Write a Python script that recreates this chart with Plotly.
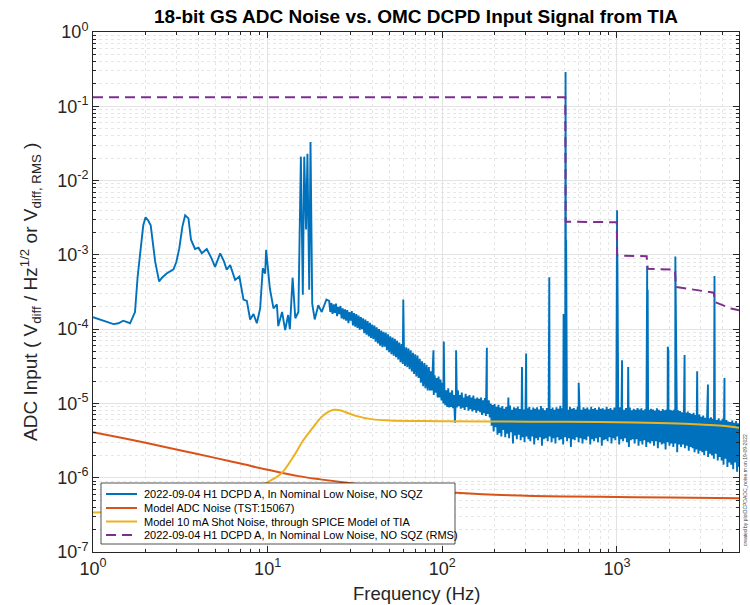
import numpy as np
import plotly.graph_objects as go

# ---------------- data ----------------
# Measured ASD, low-frequency part (Hz, V/rtHz*1e6)
low_f = [1.0, 1.1, 1.2, 1.31, 1.4, 1.49, 1.63, 1.74, 1.8, 1.88, 1.94, 2.0, 2.07, 2.14, 2.27, 2.39,
         2.5, 2.64, 2.89, 3.0, 3.12, 3.25, 3.37, 3.52, 3.64, 3.84, 4.02, 4.2, 4.48, 4.78, 5.0, 5.35,
         5.63, 5.83, 6.1, 6.51, 6.89, 7.27, 7.6, 7.94, 8.3, 8.67, 9.06, 9.38, 9.68, 9.8, 10.1, 10.3,
         10.8, 11.3, 11.5, 12.1, 12.6, 13.1, 13.4, 13.9, 14.4, 15.0, 15.5, 15.9, 16.2, 16.6, 16.9,
         17.3, 17.6, 18.0, 18.6, 19.5, 20.4, 21.7]
low_uv = [145, 135, 125, 117, 120, 130, 120, 170, 500, 1230, 2500, 3200, 2900, 2500, 810, 440,
          500, 560, 640, 800, 1230, 2400, 3400, 3100, 1600, 1200, 1250, 1050, 1200, 890, 690, 1050,
          810, 630, 730, 460, 510, 250, 240, 135, 160, 120, 190, 660, 560, 1170, 630, 350,
          190, 215, 110, 170, 97, 155, 100, 490, 140, 170, 21000, 290, 21000, 2200, 23000,
          340, 33000, 220, 135, 210, 170, 250]

# Measured ASD, 22-85 Hz (uV/rtHz), on the FFT frequency grid
seg1_range = (22.5, 85.0)
seg1_uv = [240, 170, 225, 160, 215, 165, 220, 150, 200, 160,
           205, 140, 190, 135, 185, 130, 180, 120, 170, 130,
           175, 112, 165, 108, 160, 104, 152, 98, 145, 100,
           140, 88, 135, 84, 128, 80, 122, 76, 115, 74,
           112, 68, 106, 64, 100, 60, 96, 57, 92, 58,
           90, 52, 85, 49, 80, 46, 77, 44, 74, 42,
           70, 39, 66, 36, 63, 34, 60, 32, 57, 31,
           55, 29, 52, 27, 48, 25, 46, 23, 44, 22,
           40, 19, 37, 17, 35, 16, 33, 15, 31, 15]

# Measured ASD, 85-5000 Hz (uV/rtHz)
seg2_range = (86.0, 5000.0)
seg2_uv = [27, 15, 25, 13, 24, 14, 22, 12, 23, 12,
           21, 11, 19, 10, 16, 9.5, 15, 9, 16, 8.8,
           14, 9, 15, 8.6, 13, 5.5, 14, 8.8, 15, 9.2,
           13, 8.5, 14, 8.8, 12, 8.2, 13.5, 9, 12.5, 8,
           13, 8.4, 12, 7.8, 12.8, 8.2, 11.5, 7.5, 12, 8,
           11.5, 7.6, 12, 7, 11, 7.4, 11.8, 6.8, 10.5, 7.2,
           11, 6.5, 10, 5, 9.5, 4.2, 9.8, 4.8, 9, 3.8,
           9.6, 4, 8.8, 3.6, 9.2, 4.4, 8.5, 3.5, 9, 3.9,
           8.8, 3.4, 9.4, 4.1, 8.2, 2.9, 8.9, 3.7, 8.6, 3.3,
           9.1, 3.8, 8.4, 3.2, 8.8, 3.5, 8.3, 3, 8.7, 3.6,
           8.6, 3.3, 9, 3.1, 8.2, 3.6, 8.8, 2.8, 8.5, 3.4,
           8.9, 3.2, 8.3, 3.5, 9.2, 2.7, 8.6, 3.3, 8.1, 3.4,
           8.7, 3.1, 9, 3.6, 8.4, 3, 8.8, 3.4, 8.2, 2.9,
           8.9, 3.5, 8.5, 3.2, 9.3, 3.3, 8.6, 2.8, 8.4, 3.5,
           8.8, 3.1, 8.2, 3.4, 9, 2.6, 8.5, 3.3, 8.7, 3.2,
           8.3, 3.5, 9.1, 3, 8.6, 3.4, 8.2, 2.9, 8.9, 3.3,
           8.5, 3.2, 8.8, 3.6, 8.3, 2.8, 9, 3.3, 8.4, 3.1,
           8.7, 3.4, 8.2, 3, 8.9, 3.5, 8.5, 2.7, 8.6, 3.2,
           8.3, 3.3, 9, 3.1, 8.4, 3.5, 8.7, 2.9, 8.2, 3.4,
           8.8, 3.2, 8.5, 3.6, 8.3, 2.8, 8.9, 3.3, 8.6, 3.1,
           8.2, 3.4, 8.7, 3, 8.4, 2.6, 8.8, 3.2, 8.1, 3.3,
           8.5, 2.9, 8.2, 3.3, 8.7, 2.7, 8.3, 3.1, 8.6, 2.8,
           8.1, 3.2, 8.4, 2.6, 8.8, 3, 8.2, 2.9, 8.5, 3.1,
           8.3, 2.7, 8, 3.1, 8.6, 2.5, 8.2, 3, 7.9, 2.8,
           8.4, 2.9, 8.1, 2.4, 8.3, 3, 7.8, 2.7, 8.2, 2.9,
           8, 2.6, 8.3, 2.9, 7.7, 2.2, 8.1, 2.8, 7.9, 2.6,
           7.6, 2.8, 8, 2.5, 7.5, 2.7, 7.8, 2.3, 7.4, 2.6,
           7.2, 2.5, 7.5, 2.2, 7, 2.4, 6.8, 2.1, 7.1, 2.3,
           6.6, 2.2, 6.9, 2, 6.4, 2.3, 6.7, 1.9, 6.3, 2.1,
           6.5, 2, 6.2, 1.8, 6.6, 2.1, 6, 1.7, 6.3, 1.9,
           5.9, 1.7, 6.2, 1.5, 5.8, 1.8, 6, 1.4, 5.7, 1.6,
           5.6, 1.5, 5.9, 1.3, 5.5, 1.6, 5.8, 1.2, 5.4, 1.4]

# Narrow lines (Hz, V/rtHz)
spike_f = [59.8, 89, 102, 120, 180, 239, 286, 302, 410, 495, 508, 512, 604,
           998, 1002, 1006, 1070, 1160, 1490, 1500, 1955, 1970, 2160, 2170, 2180,
           2440, 2880, 3320, 3620, 4130]
spike_v = [2.5e-4, 5.2e-5, 6.8e-5, 5.2e-5, 5.6e-5, 1.2e-5, 3.1e-5, 4.7e-5, 5.0e-4, 1.6e-4, 0.29, 1.6e-3, 1.9e-5,
           2.0e-3, 4.0e-3, 1.0e-3, 3.8e-5, 3.1e-5, 7.1e-4, 3.4e-4, 5.8e-5, 5.0e-5, 9.5e-4, 2.9e-4, 1.3e-4,
           4.5e-5, 2.7e-5, 1.8e-5, 5.2e-4, 2.2e-5]

# Model ADC noise
adc_f = [1, 1.5, 2, 3, 5, 7, 10, 15, 20, 30, 50, 70, 100, 200, 500, 1000, 2000, 5000]
adc_v = [4.1e-6, 3.4e-6, 2.95e-6, 2.4e-6, 1.85e-6, 1.55e-6, 1.28e-6, 1.05e-6, 9.5e-7, 8.4e-7,
         7.3e-7, 6.8e-7, 6.4e-7, 5.9e-7, 5.6e-7, 5.5e-7, 5.4e-7, 5.3e-7]

# Model shot noise through TIA
shot_f = [1, 2, 3, 5, 7, 10, 12, 14, 16, 18, 20, 22, 24, 26, 28, 32, 40, 50, 70, 100, 200,
          500, 1000, 2000, 3000, 4000, 5000]
shot_v = [3.4e-7, 3.6e-7, 3.9e-7, 4.7e-7, 5.8e-7, 8.7e-7, 1.15e-6, 1.9e-6, 3.2e-6, 4.6e-6,
          6.3e-6, 7.6e-6, 8.2e-6, 8.1e-6, 7.6e-6, 6.8e-6, 6.1e-6, 5.9e-6, 5.8e-6, 5.75e-6, 5.7e-6,
          5.65e-6, 5.6e-6, 5.4e-6, 5.2e-6, 5.0e-6, 4.7e-6]

# Cumulative RMS
rms_f = [1, 506, 509, 998, 1003, 1480, 1500, 2150, 2175, 2500, 3000, 3580, 3660, 4000, 4500, 5000]
rms_v = [0.132, 0.132, 2.8e-3, 2.75e-3, 9.8e-4, 9.6e-4, 6.5e-4, 6.3e-4, 3.7e-4, 3.5e-4, 3.3e-4,
         3.1e-4, 2.3e-4, 2.1e-4, 1.9e-4, 1.8e-4]

x_tick_vals = [1, 10, 100, 1000]
x_tick_text = ["10<sup>0</sup>", "10<sup>1</sup>", "10<sup>2</sup>", "10<sup>3</sup>"]
y_tick_vals = [1e-7, 1e-6, 1e-5, 1e-4, 1e-3, 1e-2, 1e-1, 1]
y_tick_text = ["10<sup>-7</sup>", "10<sup>-6</sup>", "10<sup>-5</sup>", "10<sup>-4</sup>",
               "10<sup>-3</sup>", "10<sup>-2</sup>", "10<sup>-1</sup>", "10<sup>0</sup>"]

names = ["2022-09-04 H1 DCPD A, In Nominal Low Noise, NO SQZ",
         "Model ADC Noise (TST:15067)",
         "Model 10 mA Shot Noise, through SPICE Model of TIA",
         "2022-09-04 H1 DCPD A, In Nominal Low Noise, NO SQZ (RMS)"]
colors = ["#0072BD", "#D95319", "#EDB120", "#7E2F8E"]
dashes = ["solid", "solid", "solid", "10px,6px"]

# ---------------- assemble measured spectrum ----------------
seg1_f = np.geomspace(seg1_range[0], seg1_range[1], len(seg1_uv))
seg2_f = np.geomspace(seg2_range[0], seg2_range[1], len(seg2_uv))
all_f = np.concatenate([low_f, seg1_f, seg2_f, spike_f])
all_v = np.concatenate([np.array(low_uv) * 1e-6, np.array(seg1_uv) * 1e-6,
                        np.array(seg2_uv) * 1e-6, spike_v])
order = np.argsort(all_f, kind="stable")
meas_f = all_f[order]
meas_v = all_v[order]

# ---------------- figure ----------------
fig = go.Figure()
fig.add_trace(go.Scatter(x=meas_f, y=meas_v, mode="lines", name=names[0],
                         line=dict(color=colors[0], width=1.9)))
fig.add_trace(go.Scatter(x=adc_f, y=adc_v, mode="lines", name=names[1], line_shape="spline",
                         line=dict(color=colors[1], width=2)))
fig.add_trace(go.Scatter(x=shot_f, y=shot_v, mode="lines", name=names[2], line_shape="spline",
                         line=dict(color=colors[2], width=2)))
fig.add_trace(go.Scatter(x=rms_f, y=rms_v, mode="lines", name=names[3],
                         line=dict(color=colors[3], width=2, dash=dashes[3])))

font_family = "Liberation Sans, Arial, Helvetica, sans-serif"
axis_common = dict(
    type="log", showline=True, linecolor="#262626", linewidth=1, mirror="ticks",
    ticks="inside", ticklen=6, tickcolor="#262626", tickwidth=1,
    showgrid=True, gridcolor="#e3e3e3", gridwidth=1, zeroline=False,
    tickfont=dict(family=font_family, size=18, color="#262626"),
    minor=dict(ticks="inside", ticklen=3, tickcolor="#262626", dtick="D1",
               showgrid=True, gridcolor="#e6e6e6", griddash="dot", gridwidth=1),
)
fig.update_xaxes(**axis_common, range=[0, np.log10(5000)],
                 tickvals=x_tick_vals, ticktext=x_tick_text)
fig.update_yaxes(**axis_common, range=[-7, 0],
                 tickvals=y_tick_vals, ticktext=y_tick_text)

# ---- legend box (drawn like MATLAB's compact legend) ----
PL, PR, PT, PB = 93, 739, 32, 552
def px_x(p):
    return (p - PL) / (PR - PL)
def px_y(p):
    return (PB - p) / (PB - PT)

shapes = [dict(type="rect", xref="paper", yref="paper",
               x0=px_x(101), x1=px_x(455), y0=px_y(544), y1=px_y(483),
               fillcolor="white", line=dict(color="#262626", width=0.8), layer="above")]
annotations = []
row_y = [494, 508, 521.5, 535]
for name, col, dsh, ry in zip(names, colors, dashes, row_y):
    shapes.append(dict(type="line", xref="paper", yref="paper",
                       x0=px_x(106), x1=px_x(137), y0=px_y(ry), y1=px_y(ry),
                       line=dict(color=col, width=2, dash=dsh), layer="above"))
    annotations.append(dict(text=name, xref="paper", yref="paper", x=px_x(142), y=px_y(ry),
                            xanchor="left", yanchor="middle", showarrow=False,
                            font=dict(family=font_family, size=11, color="black")))

annotations += [
    dict(text="ADC Input ( V<sub>diff</sub> / Hz<sup>1/2</sup> or V<sub>diff, RMS</sub> )",
         xref="paper", yref="paper", x=px_x(30), y=0.5, textangle=-90,
         xanchor="center", yanchor="middle", showarrow=False,
         font=dict(family=font_family, size=19, color="#262626")),
    dict(text="Frequency (Hz)", xref="paper", yref="paper", x=0.5, y=px_y(593),
         xanchor="center", yanchor="middle", showarrow=False,
         font=dict(family=font_family, size=18.5, color="#262626")),
    dict(text="created by plotDCPDADC_noise.m on 19-09-2022", xref="paper", yref="paper",
         x=px_x(745), y=px_y(490), textangle=-90, xanchor="center",
         yanchor="middle", showarrow=False,
         font=dict(family=font_family, size=5, color="#444444")),
]

fig.update_layout(
    width=750, height=605,
    margin=dict(l=PL, r=750 - PR, t=PT, b=605 - PB),
    paper_bgcolor="white", plot_bgcolor="white",
    font=dict(family=font_family, color="#262626"),
    title=dict(text="<b>18-bit GS ADC Noise vs. OMC DCPD Input Signal from TIA</b>",
               x=416 / 750, xanchor="center", y=1 - 16 / 605, yanchor="middle",
               font=dict(family=font_family, size=19, color="black")),
    showlegend=False,
    shapes=shapes,
    annotations=annotations,
)

fig.write_html("out.html")
